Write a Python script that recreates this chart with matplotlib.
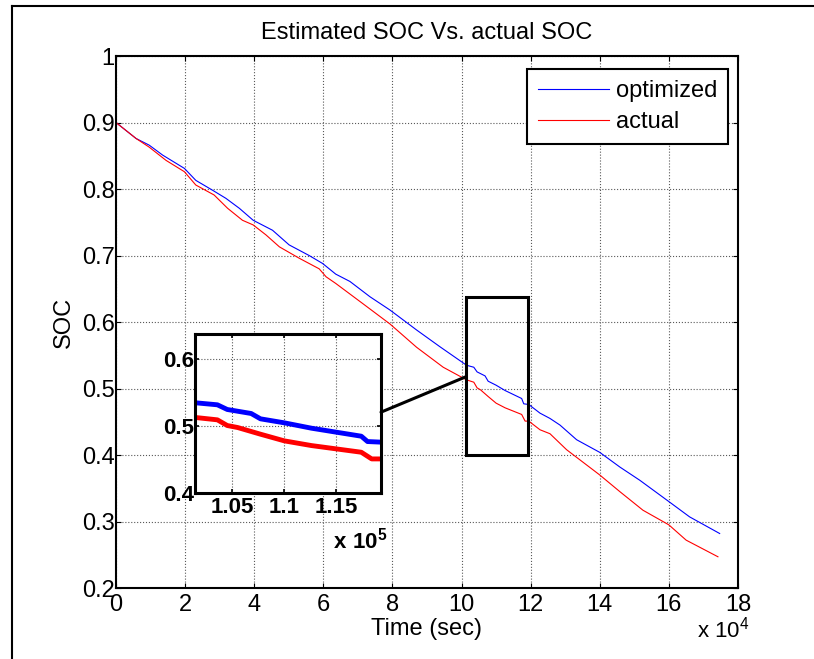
import matplotlib
matplotlib.use("Agg")
import matplotlib.pyplot as plt
from matplotlib.patches import Rectangle, ConnectionPatch
from matplotlib.lines import Line2D

plt.rcParams['font.family'] = ['Liberation Sans', 'DejaVu Sans']
plt.rcParams['mathtext.fontset'] = 'custom'
plt.rcParams['mathtext.rm'] = 'Liberation Sans'
plt.rcParams['mathtext.bf'] = 'Liberation Sans:bold'

# time in units of 1e4 s
t_opt = [0, 0.58, 0.96, 1.35, 1.98, 2.31, 2.8, 3.18, 3.57, 3.97,
         4.53, 5.01, 5.59, 5.98, 6.36, 6.77, 7.35, 7.93, 8.7, 9.37,
         10.145, 10.355, 10.45, 10.68, 10.77, 11.0, 11.26, 11.5, 11.74, 11.8,
         11.945, 12.27, 12.56, 12.85, 13.33, 14.0, 14.58, 15.16, 16.0, 16.6,
         17.47]
soc_opt = [0.9, 0.876, 0.866, 0.851, 0.831, 0.813, 0.798, 0.786, 0.771, 0.753,
           0.738, 0.716, 0.70, 0.688, 0.672, 0.661, 0.638, 0.618, 0.588, 0.563,
           0.535, 0.532, 0.525, 0.519, 0.511, 0.505, 0.497, 0.491, 0.485, 0.477,
           0.476, 0.463, 0.455, 0.445, 0.423, 0.404, 0.382, 0.362, 0.330, 0.307,
           0.282]
t_act = [0, 0.58, 0.96, 1.45, 1.98, 2.31, 2.84, 3.23, 3.66, 3.97,
         4.34, 4.73, 5.3, 5.88, 6.08, 6.36, 7.16, 7.93, 8.7, 9.47,
         10.145, 10.355, 10.45, 10.55, 10.77, 11.0, 11.26, 11.5, 11.74, 11.84,
         11.945, 12.27, 12.56, 13.04, 14.0, 14.58, 15.25, 16.0, 16.5, 17.42]
soc_act = [0.9, 0.876, 0.863, 0.843, 0.826, 0.806, 0.791, 0.771, 0.753, 0.746,
           0.731, 0.713, 0.696, 0.68, 0.668, 0.658, 0.627, 0.597, 0.562, 0.532,
           0.513, 0.5095, 0.501, 0.498, 0.488, 0.478, 0.471, 0.466, 0.461, 0.451,
           0.451, 0.438, 0.432, 0.408, 0.370, 0.345, 0.317, 0.295, 0.272, 0.247]

x_ticks = [0, 2, 4, 6, 8, 10, 12, 14, 16, 18]
y_ticks = [0.2, 0.3, 0.4, 0.5, 0.6, 0.7, 0.8, 0.9, 1.0]
y_labels = ["0.2", "0.3", "0.4", "0.5", "0.6", "0.7", "0.8", "0.9", "1"]

# zoom window (x in units of 1e5 s)
zoom_x = (1.014, 1.193)
zoom_y = (0.4, 0.638)
zoom_xticks = [1.05, 1.1, 1.15]
zoom_xlabels = ["1.05", "1.1", "1.15"]
zoom_yticks = [0.4, 0.5, 0.6]

fs = 17

fig = plt.figure(figsize=(8.14, 6.59), dpi=100)
ax = fig.add_axes([0.1425, 0.1077, 0.7641, 0.8073])

ax.plot(t_opt, soc_opt, color="blue", lw=0.8, label="optimized")
ax.plot(t_act, soc_act, color="red", lw=0.8, label="actual")
ax.set_xlim(0, 18)
ax.set_ylim(0.2, 1.0)
ax.set_xticks(x_ticks)
ax.set_xticklabels([str(v) for v in x_ticks])
ax.set_yticks(y_ticks)
ax.set_yticklabels(y_labels)
ax.grid(True, color="0.35", linestyle=":", linewidth=0.8)
ax.tick_params(direction="in", length=3.5, width=0.8, top=True, right=True,
               labelsize=fs)
ax.tick_params(axis="x", pad=4)
ax.tick_params(axis="y", pad=1)
for sp in ax.spines.values():
    sp.set_linewidth(1.5)
ax.set_title("Estimated SOC Vs. actual SOC", fontsize=fs, pad=12)
ax.set_xlabel("Time (sec)", fontsize=fs, labelpad=2)
ax.set_ylabel("SOC", fontsize=fs, labelpad=5)
fig.text(0.856, 0.033, r"x 10$^{4}$", fontsize=fs - 1)

leg = ax.legend(loc="upper right", bbox_to_anchor=(0.984, 0.975),
                borderaxespad=0, fancybox=False, framealpha=1,
                edgecolor="black", fontsize=fs, handlelength=3.0,
                handletextpad=0.3, borderpad=0.45, labelspacing=0.4)
leg.get_frame().set_linewidth(1.5)

# zoom rectangle on main axes
ax.add_patch(Rectangle((zoom_x[0] * 10, zoom_y[0]),
                       (zoom_x[1] - zoom_x[0]) * 10, zoom_y[1] - zoom_y[0],
                       fill=False, edgecolor="black", lw=2.2, zorder=5))

# inset
ins = fig.add_axes([0.2396, 0.2519, 0.2285, 0.2413])
ins.plot([v / 10 for v in t_opt], soc_opt, color="blue", lw=3.5)
ins.plot([v / 10 for v in t_act], soc_act, color="red", lw=3.5)
ins.set_xlim(*zoom_x)
ins.set_ylim(*zoom_y)
ins.set_xticks(zoom_xticks)
ins.set_xticklabels(zoom_xlabels)
ins.set_yticks(zoom_yticks)
ins.grid(True, color="0.35", linestyle=":", linewidth=0.8)
ins.tick_params(direction="in", length=3, width=1.2, top=True, right=True,
                labelsize=16)
ins.tick_params(axis="x", pad=3)
ins.tick_params(axis="y", pad=1)
for lab in ins.get_xticklabels() + ins.get_yticklabels():
    lab.set_fontweight("bold")
for sp in ins.spines.values():
    sp.set_linewidth(2.2)
fig.text(0.409, 0.167, r"$\mathbf{x\ 10^{5}}$", fontsize=16)

con = ConnectionPatch(xyA=(zoom_x[1], 0.521), coordsA=ins.transData,
                      xyB=(zoom_x[0] * 10, 0.518), coordsB=ax.transData,
                      color="black", lw=2.2)
fig.add_artist(con)

# figure frame (left and top edges visible)
fig.add_artist(Line2D([12 / 814, 12 / 814], [0, 1 - 6 / 659], color="black",
                      lw=1.5, transform=fig.transFigure))
fig.add_artist(Line2D([12 / 814, 1], [1 - 6 / 659, 1 - 6 / 659], color="black",
                      lw=1.5, transform=fig.transFigure))

fig.savefig("out.png", dpi=100)
